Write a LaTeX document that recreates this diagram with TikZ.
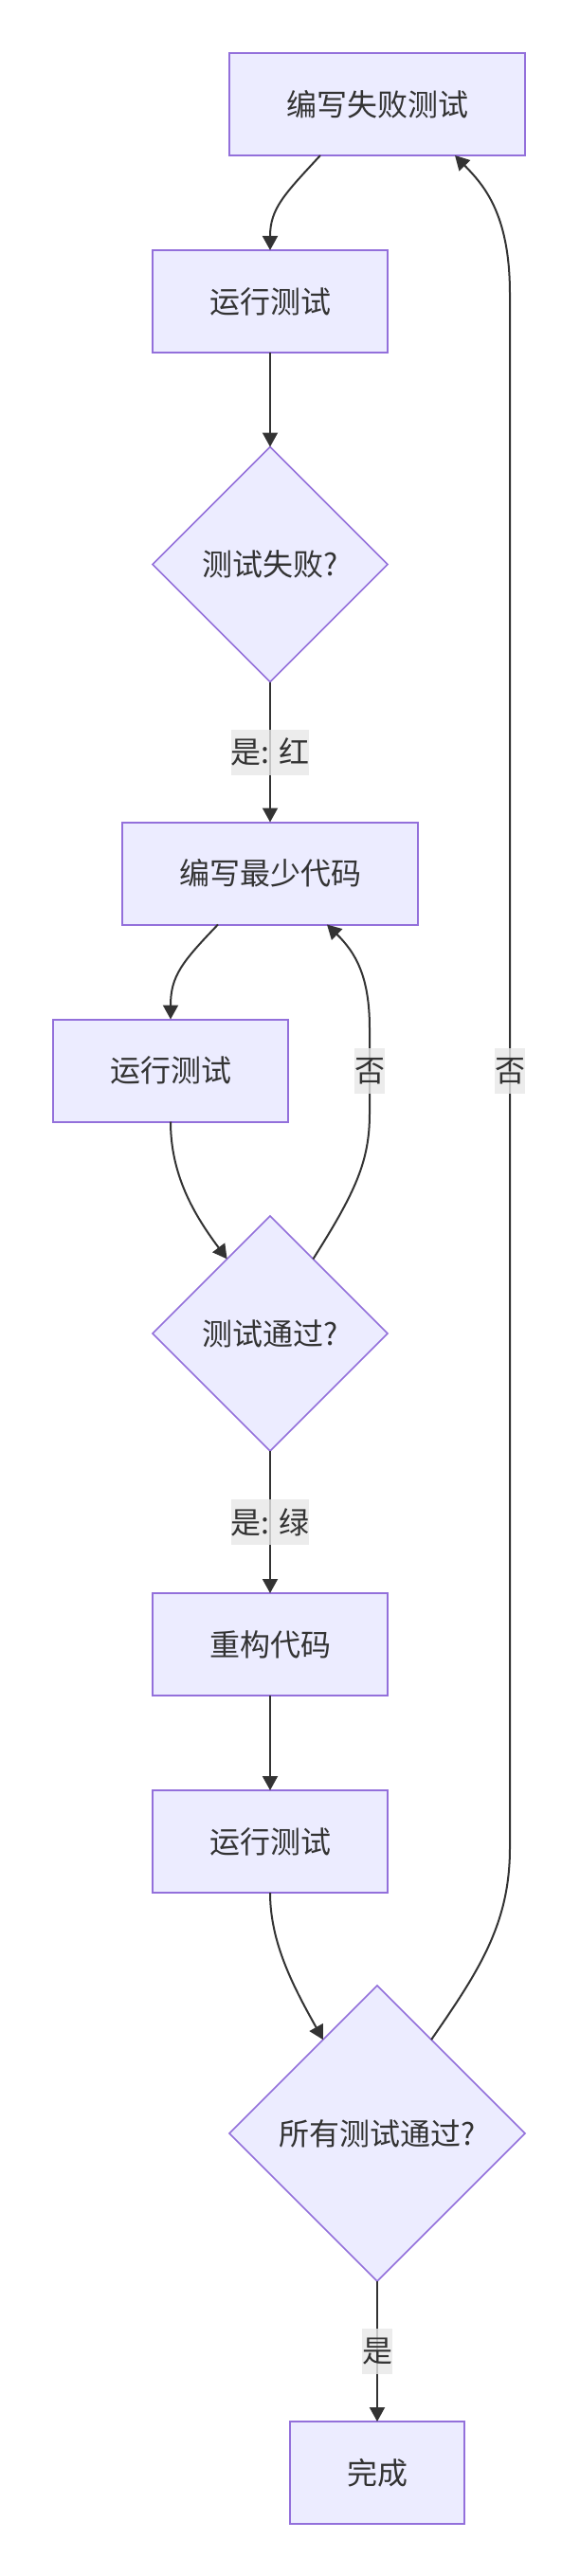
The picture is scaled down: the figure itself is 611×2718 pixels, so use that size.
\documentclass[tikz,border=0pt]{standalone}
\usepackage{fontspec}
\newfontfamily\cjk{Noto Sans CJK SC}
\usetikzlibrary{shapes.geometric,arrows.meta}
\definecolor{nodefill}{HTML}{ECECFF}
\definecolor{nodeline}{HTML}{9370DB}
\definecolor{edgecol}{HTML}{333333}
\definecolor{lblbg}{HTML}{E8E8E8}
\begin{document}
\begin{tikzpicture}[x=0.5pt,y=-0.5pt,
  every node/.style={font=\cjk\fontsize{16pt}{24pt}\selectfont, text=edgecol, outer sep=0pt},
  procbox/.style={rectangle, draw=nodeline, fill=nodefill, line width=1pt,
    inner xsep=30pt, inner ysep=0pt, minimum height=54pt},
  decbox/.style={diamond, draw=nodeline, fill=nodefill, line width=0.8pt,
    inner sep=0pt, aspect=1},
  edge/.style={draw=edgecol, line width=1pt, -{Triangle[length=7.5pt,width=8pt]}},
  lbl/.style={fill=lblbg, fill opacity=0.8, text opacity=1, inner xsep=0pt,
    inner ysep=0pt, minimum height=24pt}
]
\fill[white] (0,0) rectangle (611,2718);
\useasboundingbox (0,0) rectangle (611,2718);

\node[procbox] (n1) at (398,110) {编写失败测试};
\node[procbox] (n2) at (285,318) {运行测试};
\node[decbox, minimum width=124pt, minimum height=124pt] (d1) at (285,595.5) {测试失败?};
\node[procbox] (n3) at (285,921.5) {编写最少代码};
\node[procbox] (n4) at (180,1129.5) {运行测试};
\node[decbox, minimum width=124pt, minimum height=124pt] (d2) at (285,1407) {测试通过?};
\node[procbox] (n5) at (285,1735) {重构代码};
\node[procbox] (n6) at (285,1943) {运行测试};
\node[decbox, minimum width=156pt, minimum height=156pt] (d3) at (398,2251) {所有测试通过?};
\node[procbox] (n7) at (398,2609) {完成};

% edges
\draw[edge] ([xshift=-30pt]n1.south) .. controls (300,205) and (285,220) .. (n2.north);
\draw[edge] (n2.south) -- (d1.north);
\draw[edge] (d1.south) -- node[lbl] {是: 红} (n3.north);
\draw[edge] ([xshift=-27.5pt]n3.south) .. controls (192,1015) and (180,1030) .. (n4.north);
\draw[edge] (n4.south) .. controls (180,1240) and (205,1282) .. (d2.120);
\draw[edge] (d2.60) .. controls (375,1258) and (390,1225) .. (390,1175)
   -- node[lbl] {否} (390,1085)
   .. controls (390,1030) and (375,1005) .. ([xshift=30pt]n3.south);
\draw[edge] (d2.south) -- node[lbl] {是: 绿} (n5.north);
\draw[edge] (n5.south) -- (n6.north);
\draw[edge] (n6.south) .. controls (285,2050) and (310,2097) .. (d3.120);
\draw[edge] (d3.60) .. controls (505,2080) and (538,2030) .. (538,1950)
   -- node[lbl] {否} (538,310)
   .. controls (538,225) and (510,195) .. ([xshift=41pt]n1.south);
\draw[edge] (d3.south) -- node[lbl] {是} (n7.north);
\end{tikzpicture}
\end{document}
